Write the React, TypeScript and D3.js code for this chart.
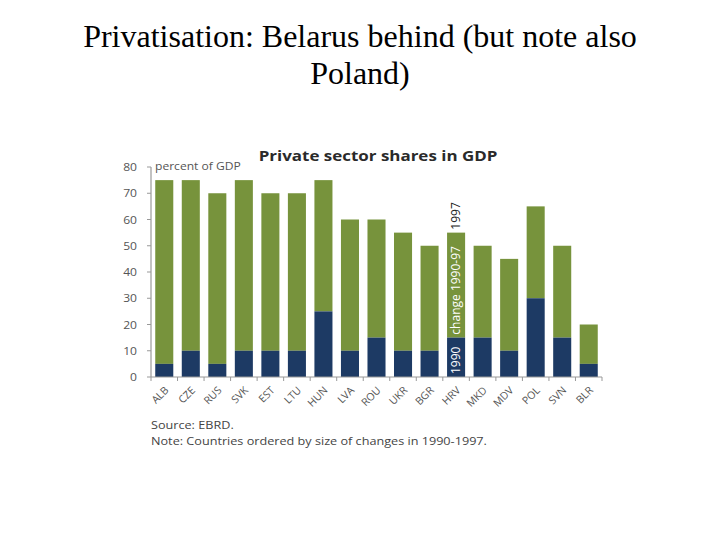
import React from "react";
import * as d3 from "d3";

const countries = ["ALB","CZE","RUS","SVK","EST","LTU","HUN","LVA","ROU","UKR","BGR","HRV","MKD","MDV","POL","SVN","BLR"];
const share1990 = [5,10,5,10,10,10,25,10,15,10,10,15,15,10,30,15,5];
const share1997 = [75,75,70,75,70,70,75,60,60,55,50,55,50,45,65,50,20];
const yTicks = [0,10,20,30,40,50,60,70,80];

const GREEN = "#77933c";
const NAVY = "#1d3a64";
const SX = 1.13;

export default function App() {
  const W = 720, H = 540;
  const x0 = 151, x1 = 602, yTop = 167, yBot = 377;
  const x = d3.scaleBand<string>().domain(countries).range([x0, x1]).paddingInner(0.32).paddingOuter(0.16);
  const y = d3.scaleLinear().domain([0, 80]).range([yBot, yTop]);
  const step = x.step();
  const hrvIdx = countries.indexOf("HRV");
  const hrvCx = (x("HRV") as number) + x.bandwidth() / 2;
  return (
    <svg width={W} height={H} style={{ position: "absolute", left: 0, top: 0, background: "#fff" }}>
      <text x={360} y={47} textAnchor="middle" fontFamily="'Liberation Serif', 'Times New Roman', serif" fontSize={32} fill="#000">
        Privatisation: Belarus behind (but note also
      </text>
      <text x={360} y={84} textAnchor="middle" fontFamily="'Liberation Serif', 'Times New Roman', serif" fontSize={32} fill="#000">
        Poland)
      </text>
      <g fontFamily="'Open Sans', 'DejaVu Sans', sans-serif">
        <text transform={`translate(378,161) scale(${SX},1)`} textAnchor="middle" fontSize={15} fontWeight="bold" fill="#2a2a2a">Private sector shares in GDP</text>
        <text transform={`translate(155,170) scale(1.1,1)`} fontSize={11} fill="#555">percent of GDP</text>
        {countries.map((c, i) => (
          <g key={c}>
            <rect x={x(c)} y={y(share1997[i])} width={x.bandwidth()} height={y(share1990[i]) - y(share1997[i])} fill={GREEN} />
            <rect x={x(c)} y={y(share1990[i])} width={x.bandwidth()} height={yBot - y(share1990[i])} fill={NAVY} />
          </g>
        ))}
        {/* y axis */}
        <line x1={x0} x2={x0} y1={yTop} y2={yBot} stroke="#999" strokeWidth={1.2} />
        {yTicks.map(t => (
          <g key={t}>
            <line x1={x0 - 4} x2={x0} y1={y(t)} y2={y(t)} stroke="#999" />
            <text transform={`translate(${x0 - 14},${y(t) + 4}) scale(1.1,1)`} textAnchor="end" fontSize={11} fill="#555">{t}</text>
          </g>
        ))}
        {/* x axis */}
        <line x1={x0} x2={x1} y1={yBot} y2={yBot} stroke="#999" strokeWidth={1.2} />
        {d3.range(countries.length + 1).map(i => (
          <line key={i} x1={x0 + i * step} x2={x0 + i * step} y1={yBot} y2={yBot + 4} stroke="#999" />
        ))}
        {countries.map(c => {
          const cx = (x(c) as number) + x.bandwidth() / 2 + 5;
          return (
            <text key={c} transform={`translate(${cx},${yBot + 14}) rotate(-45)`} textAnchor="end" fontSize={10.5} fill="#555">{c}</text>
          );
        })}
        {/* HRV annotation */}
        <text transform={`translate(${hrvCx + 4},${yBot - 3}) rotate(-90)`} fontSize={12} fill="#fff" textAnchor="start">1990</text>
        <text transform={`translate(${hrvCx + 4},${y(share1990[hrvIdx]) - 3}) rotate(-90)`} fontSize={12} fill="#fff" textAnchor="start">change 1990-97</text>
        <text transform={`translate(${hrvCx + 4},${y(share1997[hrvIdx]) - 3}) rotate(-90)`} fontSize={12} fill="#222" textAnchor="start">1997</text>
        <text transform={`translate(151,429) scale(${SX},1)`} fontSize={11.2} fill="#444">Source: EBRD.</text>
        <text transform={`translate(151,445) scale(${SX},1)`} fontSize={11.2} fill="#444">Note: Countries ordered by size of changes in 1990-1997.</text>
      </g>
    </svg>
  );
}
